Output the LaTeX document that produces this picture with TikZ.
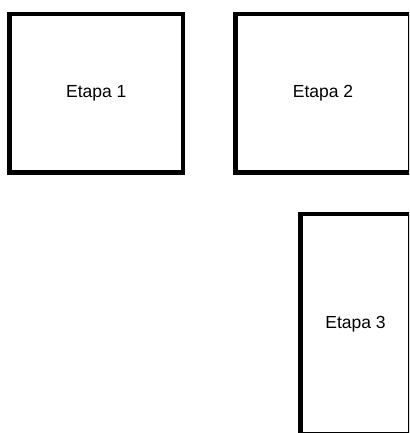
\documentclass[tikz,border=0pt]{standalone}
\usepackage{fontspec}
\setmainfont{Liberation Sans}
\usepackage{tikz}
\usetikzlibrary{positioning}

\begin{document}
\begin{tikzpicture}[
  stage/.style={rectangle, draw=black, fill=white, line width=4.5pt,
    minimum width=173.5pt, minimum height=158.5pt, inner sep=0pt,
    font=\fontsize{17.5}{20}\selectfont, align=center},
]
\useasboundingbox (0,0) rectangle (409pt,-433pt);
\clip (0,0) rectangle (409pt,-433pt);
\node[stage, anchor=north west] (etapa1) at (7.3pt,-11.7pt) {Etapa 1};
\node[stage, right=48pt of etapa1, minimum width=175pt] (etapa2) {Etapa 2};
\node[stage, below=37pt of etapa2.south east, anchor=north east,
  minimum width=110pt, minimum height=220.5pt] (etapa3) {Etapa 3};
\end{tikzpicture}
\end{document}
